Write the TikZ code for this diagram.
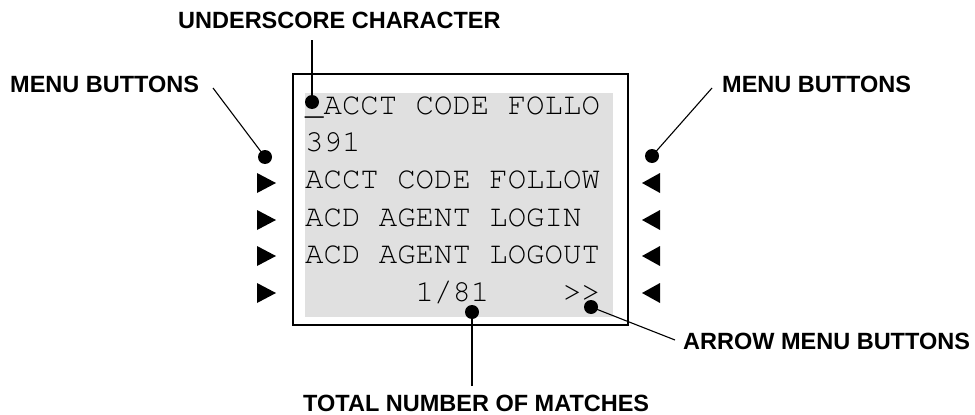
\documentclass[tikz,border=0pt]{standalone}
\usepackage[T1]{fontenc}
\usepackage{fontspec}
\setmainfont{Liberation Sans}
\newcommand{\crfont}{\fontencoding{T1}\fontfamily{pcr}\fontseries{m}\fontshape{n}\fontsize{30.7}{37}\selectfont}
\begin{document}
\begin{tikzpicture}[x=1pt,y=-1pt,
  lbl/.style={font=\bfseries\fontsize{23.5}{28}\selectfont, inner sep=0, anchor=base west},
  scr/.style={font=\crfont, inner sep=0, anchor=base west},
  dotm/.style={circle, fill=black, inner sep=0, minimum size=14pt},
  leader/.style={draw=black, line width=1.1pt},
  vleader/.style={draw=black, line width=2pt},
  rtri/.style={fill=black},
]
\useasboundingbox (0,0) rectangle (975,415);
% screen
\fill[black!12] (305,93) rectangle (613,317);
\draw[line width=2.7pt] (293,74) rectangle (628,325);
% screen text
\node[scr] (l1) at (305,114) {\_ACCT CODE FOLLO};
\node[scr] (l2) at (305,151.4) {391};
\node[scr] (l3) at (305,188.8) {ACCT CODE FOLLOW};
\node[scr] (l4) at (305,226.2) {ACD AGENT LOGIN};
\node[scr] (l5) at (305,263.6) {ACD AGENT LOGOUT};
\node[scr] (l6a) at (415.5,301) {1/81};
\node[scr] (l6b) at (563,301) {>{}>};
% labels
\node[lbl] (tUnd) at (178,28) {UNDERSCORE CHARACTER};
\node[lbl] (tMenuL) at (10,92) {MENU BUTTONS};
\node[lbl] (tMenuR) at (722,92) {MENU BUTTONS};
\node[lbl] (tArrow) at (683,349) {ARROW MENU BUTTONS};
\node[lbl] (tTotal) at (303,411) {TOTAL NUMBER OF MATCHES};
% dots
\node[dotm] (dUnd) at (312,102) {};
\node[dotm] (dMenuL) at (265,157) {};
\node[dotm] (dMenuR) at (652,156) {};
\node[dotm] (dTotal) at (472,312) {};
\node[dotm] (dArrow) at (591,307) {};
% leader ends
\coordinate (cUnd) at (312,40);
\coordinate (cMenuL) at (213,88);
\coordinate (cMenuR) at (712,88);
\coordinate (cTotal) at (472,386);
\coordinate (cArrow) at (675,340);
\draw[vleader] (cUnd) -- (dUnd.center);
\draw[leader] (cMenuL) -- (dMenuL.center);
\draw[leader] (cMenuR) -- (dMenuR.center);
\draw[vleader] (cTotal) -- (dTotal.center);
\draw[leader] (cArrow) -- (dArrow.center);
% triangles
\foreach \y in {183,220,256,293}{
  \fill[rtri] (257,\y-10) -- (276,\y) -- (257,\y+10) -- cycle;
  \fill[rtri] (660,\y-10) -- (642,\y) -- (660,\y+10) -- cycle;
}
\end{tikzpicture}
\end{document}
